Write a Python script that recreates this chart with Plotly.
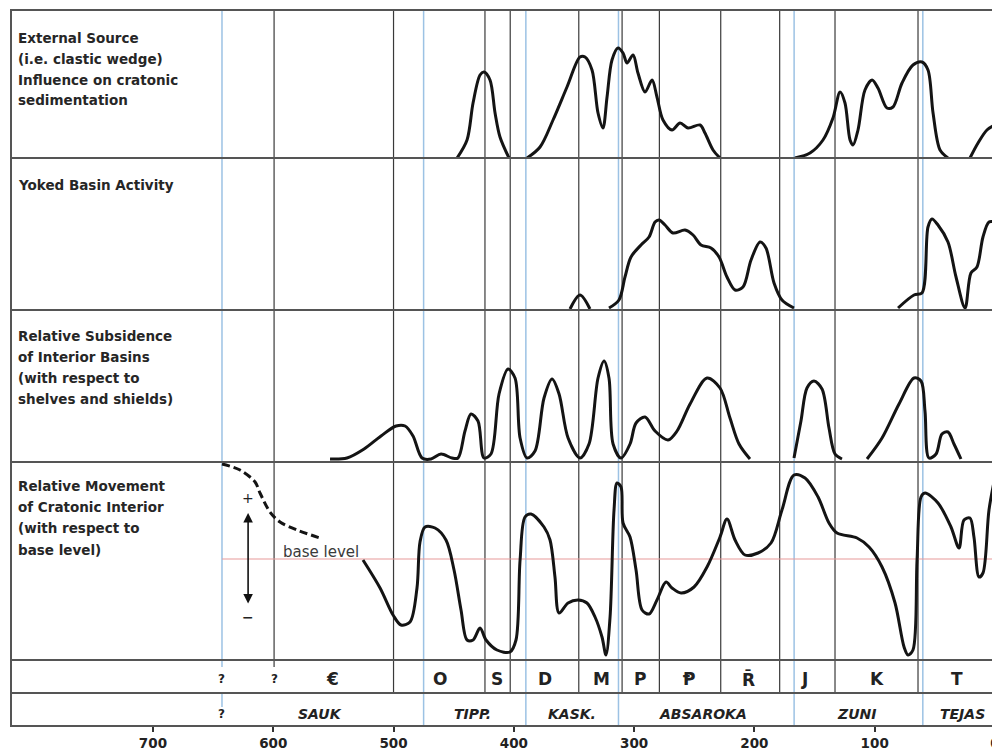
import plotly.graph_objects as go

# ---------------- data (ages in Ma, values = relative intensity) ----------------
# Panel 1: External source (clastic wedge) influence
ext_a_age = [447.2, 438.9, 433.9, 428.1, 424.8, 419.8, 415.6, 411.5, 404.0]
ext_a_val = [0, 18, 55, 83, 86, 78, 45, 21, 0]
ext_b_age = [389.0, 378.2, 367.4, 355.8, 345.0, 340.8, 335.0, 330.0, 325.9, 322.5, 318.4, 313.4,
             309.2, 305.9, 300.9, 296.8, 290.9, 285.1, 281.0, 276.0, 268.5, 261.8, 255.2, 245.2,
             241.1, 234.4, 228.6]
ext_b_val = [0, 11, 38, 71, 101, 101, 88, 45, 30, 61, 98, 110, 105, 95, 103, 85, 66, 78, 61, 38,
             28, 35, 30, 33, 25, 8, 0]
ext_c_age = [166.3, 153.8, 143.0, 134.7, 128.8, 124.7, 120.5, 118.0, 113.9, 108.1, 102.2, 97.3,
             89.8, 84.8, 77.3, 68.2, 60.7, 55.7, 51.5, 45.7, 39.1]
ext_c_val = [0, 5, 18, 40, 66, 55, 18, 13, 28, 68, 78, 70, 50, 51, 75, 93, 96, 88, 45, 8, 0]
ext_d_age = [20.8, 14.1, 6.7, 0.0]
ext_d_val = [0, 15, 28, 33]

# Panel 2: Yoked basin activity
yok_a_age = [353.3, 345.0, 336.7]
yok_a_val = [1, 15, 1]
yok_b_age = [320.9, 312.6, 307.6, 302.6, 294.3, 287.6, 282.6, 279.3, 274.3, 267.7, 257.7, 251.0,
             244.4, 236.1, 229.4, 222.8, 216.1, 209.5, 202.8, 195.3, 190.4, 183.7, 177.1, 167.1]
yok_b_val = [2, 10, 33, 53, 65, 73, 88, 90, 85, 77, 80, 75, 65, 62, 53, 33, 20, 23, 50, 68, 62,
             27, 10, 2]
yok_c_age = [80.6, 67.3, 60.7, 55.7, 52.4, 47.4, 39.1, 32.4, 24.9, 20.0, 15.0, 10.0, 5.0, 0.0]
yok_c_val = [2, 15, 17, 83, 91, 85, 68, 33, 2, 37, 43, 73, 88, 88]

# Panel 3: Relative subsidence of interior basins
sub_a_age = [552.8, 538.7, 524.5, 510.4, 497.9, 490.4, 483.8, 476.3, 468.8, 460.5, 451.4, 446.4,
             440.6, 435.6, 429.8, 424.8, 419.0, 412.3, 404.8, 399.0, 394.8, 389.0, 382.4, 374.9,
             368.2, 362.4, 354.9, 345.0, 337.5, 330.0, 325.0, 320.9, 317.5, 310.9, 303.4, 298.4,
             290.9, 282.6, 271.8, 264.3, 253.5, 239.4, 228.6, 220.3, 212.8, 203.7]
sub_a_val = [3, 4, 13, 26, 36, 36, 26, 4, 3, 8, 4, 4, 31, 48, 41, 4, 8, 68, 93, 84, 24, 4, 11,
             64, 83, 68, 24, 4, 18, 84, 101, 84, 18, 4, 18, 39, 45, 31, 22, 31, 58, 84, 74, 44,
             18, 3]
sub_b_age = [167.1, 161.3, 156.3, 150.5, 143.8, 138.0, 133.0, 127.2]
sub_b_val = [4, 41, 74, 81, 73, 34, 8, 3]
sub_c_age = [106.4, 93.9, 79.8, 67.3, 61.5, 58.2, 54.9, 49.0, 44.1, 39.1, 34.1, 28.3]
sub_c_val = [3, 24, 58, 84, 81, 51, 4, 8, 28, 30, 18, 3]

# Panel 4: Relative movement of cratonic interior (base level = 101)
base_level = 101
mov_dash_age = [642.6, 627.6, 615.1, 611.0, 602.7, 594.4, 580.2, 561.1]
mov_dash_val = [196, 190, 178, 167, 148, 138, 130, 122]
mov_age = [525.4, 511.2, 500.4, 493.8, 486.3, 480.5, 478.0, 473.8, 465.5, 456.4, 449.7, 443.9,
           438.9, 433.9, 428.1, 423.1, 414.0, 403.2, 398.2, 394.8, 390.7, 385.7, 374.9, 369.9,
           365.8, 362.4, 354.9, 346.6, 339.2, 332.5, 326.7, 323.4, 320.0, 316.7, 314.2, 310.9,
           309.2, 303.4, 298.4, 293.4, 287.6, 281.0, 273.5, 268.5, 261.0, 250.2, 239.4, 228.6,
           222.8, 216.1, 207.8, 197.0, 186.2, 177.1, 167.1, 157.9, 147.1, 138.0, 131.3, 114.7,
           104.7, 93.9, 83.1, 75.6, 72.3, 68.2, 64.8, 61.5, 58.2, 47.4, 36.6, 29.9, 25.8, 20.8,
           17.5, 13.3, 10.0, 5.0, 0.0]
mov_val = [100, 72, 45, 35, 38, 72, 118, 133, 132, 120, 90, 50, 20, 20, 32, 20, 10, 8, 20, 100,
           143, 146, 133, 120, 83, 47, 57, 60, 57, 43, 23, 5, 43, 150, 177, 173, 137, 123, 90, 50,
           46, 60, 78, 72, 67, 73, 93, 123, 141, 120, 105, 107, 117, 150, 185, 182, 163, 137, 127,
           122, 113, 93, 57, 13, 5, 10, 100, 163, 167, 157, 133, 112, 140, 142, 123, 83, 87, 150,
           183]

# Geologic periods and sequences
period_bounds = [500, 424, 403, 346, 310, 279, 228, 179, 133, 64]
period_labels = ["€", "O", "S", "D", "M", "P", "Ᵽ", "R̄", "J", "K", "T"]
period_label_age = [551, 461, 414, 374, 327, 295, 254, 205, 158, 98, 32]
sequence_bounds = [475, 390, 313, 167, 60]
sequence_start = 642.6
sequence_labels = ["SAUK", "TIPP.", "KASK.", "ABSAROKA", "ZUNI", "TEJAS"]
sequence_label_age = [561, 434, 352, 243, 115, 27]
extra_line_age = 599.3

tick_vals = [700, 600, 500, 400, 300, 200, 100, 0]

# ---------------- figure ----------------
fig = go.Figure()
CURVE = dict(color="#141414", width=3, shape="spline", smoothing=0.9)


def add_curve(ages, vals, yaxis, dash=None):
    ln = dict(CURVE)
    if dash:
        ln["dash"] = dash
    fig.add_trace(go.Scatter(x=ages, y=vals, mode="lines", line=ln, yaxis=yaxis,
                             xaxis="x", hoverinfo="skip", showlegend=False))


add_curve(ext_a_age, ext_a_val, "y")
add_curve(ext_b_age, ext_b_val, "y")
add_curve(ext_c_age, ext_c_val, "y")
add_curve(ext_d_age, ext_d_val, "y")
add_curve(yok_a_age, yok_a_val, "y2")
add_curve(yok_b_age, yok_b_val, "y2")
add_curve(yok_c_age, yok_c_val, "y2")
add_curve(sub_a_age, sub_a_val, "y3")
add_curve(sub_b_age, sub_b_val, "y3")
add_curve(sub_c_age, sub_c_val, "y3")
add_curve(mov_dash_age, mov_dash_val, "y4", dash="8px,4px")
add_curve(mov_age, mov_val, "y4")

# panel row boundaries (paper coords)
H = 716.0
p1_bot = 568 / H
p2_bot = 416 / H
p3_bot = 264 / H
p4_bot = 66 / H
row2_bot = 33 / H

shapes = []
LINE_DARK = dict(color="#3a3a3a", width=1.2)
LINE_BLUE = dict(color="#9cc2e4", width=1.5)
FRAME = dict(color="#555555", width=2)

# vertical period boundary lines
for a in period_bounds:
    shapes.append(dict(type="line", xref="x", yref="paper", x0=a, x1=a, y0=row2_bot, y1=1,
                       line=LINE_DARK, layer="below"))
# 600 Ma line (stops at top of period row, short stub)
shapes.append(dict(type="line", xref="x", yref="paper", x0=extra_line_age, x1=extra_line_age,
                   y0=p4_bot - 7 / H, y1=1, line=LINE_DARK, layer="below"))
# sequence boundaries (blue)
for a in sequence_bounds:
    shapes.append(dict(type="line", xref="x", yref="paper", x0=a, x1=a, y0=0, y1=1,
                       line=LINE_BLUE, layer="below"))
shapes.append(dict(type="line", xref="x", yref="paper", x0=sequence_start, x1=sequence_start,
                   y0=p4_bot - 7 / H, y1=1, line=LINE_BLUE, layer="below"))
shapes.append(dict(type="line", xref="x", yref="paper", x0=sequence_start, x1=sequence_start,
                   y0=row2_bot - 14 / H, y1=row2_bot, line=LINE_BLUE, layer="below"))
# base level line
shapes.append(dict(type="line", xref="x", yref="y4", x0=sequence_start, x1=0, y0=base_level,
                   y1=base_level, line=dict(color="#e79a9a", width=1.2), layer="below"))
# frame and horizontal separators
shapes.append(dict(type="rect", xref="paper", yref="paper", x0=0, x1=1, y0=0, y1=1, line=FRAME,
                   layer="above"))
for yy in [p1_bot, p2_bot, p3_bot, p4_bot, row2_bot]:
    shapes.append(dict(type="line", xref="paper", yref="paper", x0=0, x1=1, y0=yy, y1=yy,
                       line=FRAME, layer="above"))

ann = []
LBL = dict(family="DejaVu Sans", size=13.5, color="#262626", weight="bold")


def ypix(y):
    return (726 - y) / H


panel_text = [
    ("External Source", 38), ("(i.e. clastic wedge)", 59), ("Influence on cratonic", 80),
    ("sedimentation", 100), ("Yoked Basin Activity", 185),
    ("Relative Subsidence", 336), ("of Interior Basins", 357), ("(with respect to", 378),
    ("shelves and shields)", 399),
    ("Relative Movement", 486), ("of Cratonic Interior", 507), ("(with respect to", 528),
    ("base level)", 550),
]
for t, yy in panel_text:
    ann.append(dict(text=t, xref="paper", yref="paper", x=5 / 984, y=ypix(yy), xanchor="left",
                    yanchor="middle", showarrow=False, font=LBL))

# period row
for t, a in zip(period_labels, period_label_age):
    ann.append(dict(text=t, xref="x", yref="paper", x=a, y=ypix(679), xanchor="center",
                    yanchor="middle", showarrow=False,
                    font=dict(family="DejaVu Sans", size=17, color="#222222", weight="bold")))
for a in [sequence_start, extra_line_age]:
    ann.append(dict(text="?", xref="x", yref="paper", x=a, y=ypix(679), xanchor="center",
                    yanchor="middle", showarrow=False,
                    font=dict(family="DejaVu Sans", size=12, color="#222222", weight="bold")))
# sequence row
for t, a in zip(sequence_labels, sequence_label_age):
    ann.append(dict(text="<i>" + t + "</i>", xref="x", yref="paper", x=a, y=ypix(714),
                    xanchor="center", yanchor="middle", showarrow=False,
                    font=dict(family="DejaVu Sans", size=14, color="#222222", weight="bold")))
ann.append(dict(text="?", xref="x", yref="paper", x=sequence_start, y=ypix(714), xanchor="center",
                yanchor="middle", showarrow=False,
                font=dict(family="DejaVu Sans", size=12, color="#222222", weight="bold")))

# base level annotation, +/- arrow
ann.append(dict(text="base level", xref="x", yref="y4", x=560.3, y=base_level + 7,
                xanchor="center", yanchor="middle", showarrow=False,
                font=dict(family="DejaVu Sans", size=15, color="#3a3a3a")))
ann.append(dict(text="", xref="x", yref="y4", x=620.9, y=147, ax=620.9, ay=55, axref="x",
                ayref="y4", showarrow=True, arrowhead=2, startarrowhead=2, arrowside="end+start",
                arrowsize=1.2, startarrowsize=1.2, arrowwidth=1.6, arrowcolor="#111111"))
ann.append(dict(text="+", xref="x", yref="y4", x=620.9, y=162, showarrow=False,
                font=dict(family="DejaVu Sans", size=14, color="#222222")))
ann.append(dict(text="−", xref="x", yref="y4", x=620.9, y=43, showarrow=False,
                font=dict(family="DejaVu Sans", size=14, color="#222222", weight="bold")))

hidden = dict(visible=False, showgrid=False, zeroline=False, fixedrange=True)
# page body has an 8px margin; figure sized so the plot frame lands at x 11..995, y 10..726
fig.update_layout(
    width=992, height=743,
    margin=dict(l=3, r=5, t=2, b=25, autoexpand=False),
    paper_bgcolor="white", plot_bgcolor="white",
    showlegend=False, hovermode=False,
    xaxis=dict(domain=[0, 1], range=[818, 0], anchor="free", position=0,
               tickvals=tick_vals, ticktext=[str(v) for v in tick_vals],
               ticks="outside", ticklen=5, tickwidth=2, tickcolor="#333333",
               tickfont=dict(family="DejaVu Sans", size=13.5, color="#222222", weight="bold"),
               showgrid=False, zeroline=False, showline=False),
    yaxis=dict(domain=[p1_bot, 1], range=[0, 148], anchor="x", **hidden),
    yaxis2=dict(domain=[p2_bot, p1_bot], range=[0, 152], anchor="x", **hidden),
    yaxis3=dict(domain=[p3_bot, p2_bot], range=[0, 152], anchor="x", **hidden),
    yaxis4=dict(domain=[p4_bot, p3_bot], range=[0, 198], anchor="x", **hidden),
    shapes=shapes, annotations=ann,
)

fig.write_html("out.html")
